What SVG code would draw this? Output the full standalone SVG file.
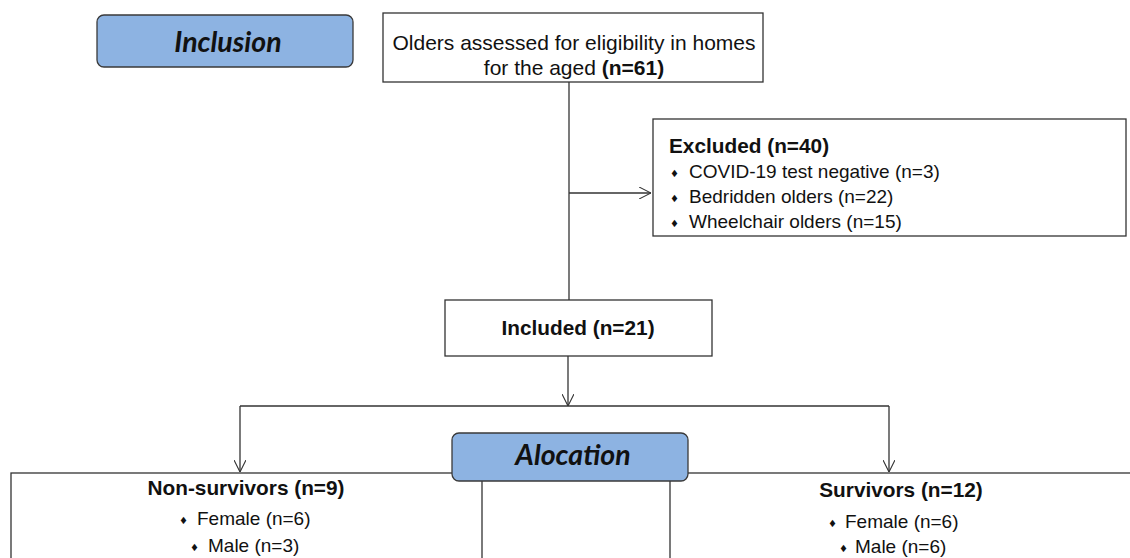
<svg xmlns="http://www.w3.org/2000/svg" width="1130" height="558" viewBox="0 0 1130 558">
<defs>
<marker id="arr" viewBox="0 0 12 12" refX="12" refY="6" markerWidth="12" markerHeight="12" markerUnits="userSpaceOnUse" orient="auto">
<path d="M0,0 L12,6 L0,12" fill="none" stroke="#333" stroke-width="1.1"/>
</marker>
<style>
.box{fill:#fff;stroke:#333;stroke-width:1.3}
.hdr{fill:#8db3e2;stroke:#3a3a3a;stroke-width:1.3}
.ln{fill:none;stroke:#333;stroke-width:1.3}
.t{font-family:"Liberation Sans",Arial,sans-serif;font-size:19px;fill:#111}
.b{font-weight:bold;font-size:20.8px}
.big{font-size:21px}
.h{font-family:Lato,"Open Sans",sans-serif;font-style:italic;font-weight:bold;font-size:28.5px;fill:#111;text-anchor:middle}
.bu{font-family:"DejaVu Sans",sans-serif;font-size:10px;fill:#111}
</style>
</defs>
<g id="connectors">
<line class="ln" x1="569" y1="82" x2="569" y2="300"/>
<line class="ln" x1="569" y1="193" x2="651" y2="193" marker-end="url(#arr)"/>
<line class="ln" x1="568" y1="356" x2="568" y2="406" marker-end="url(#arr)"/>
<polyline class="ln" points="240,406 889,406"/>
<line class="ln" x1="240" y1="406" x2="240" y2="472" marker-end="url(#arr)"/>
<line class="ln" x1="889" y1="406" x2="889" y2="472" marker-end="url(#arr)"/>
</g>
<g id="nonsurvivors">
<rect class="box" x="11" y="473" width="471" height="100"/>
<text class="t b" x="246" y="495" text-anchor="middle">Non-survivors (n=9)</text>
<text class="bu" x="179" y="524">♦</text>
<text class="t" x="197" y="525">Female (n=6)</text>
<text class="bu" x="190" y="551">♦</text>
<text class="t" x="208" y="552">Male (n=3)</text>
</g>
<g id="survivors">
<rect class="box" x="670" y="473" width="480" height="100"/>
<text class="t b" x="901" y="497" text-anchor="middle">Survivors (n=12)</text>
<text class="bu" x="828" y="527">♦</text>
<text class="t" x="845" y="528">Female (n=6)</text>
<text class="bu" x="839" y="552">♦</text>
<text class="t" x="855" y="553">Male (n=6)</text>
</g>
<g id="inclusion">
<rect class="hdr" x="97" y="15" width="256" height="52" rx="7"/>
<text class="h" x="228" y="52">Inclusion</text>
</g>
<g id="assessed">
<rect class="box" x="383" y="13" width="380" height="69"/>
<text class="t big" x="574" y="50" text-anchor="middle">Olders assessed for eligibility in homes</text>
<text class="t big" x="574" y="75" text-anchor="middle">for the aged <tspan font-weight="bold">(n=61)</tspan></text>
</g>
<g id="excluded">
<rect class="box" x="653" y="119" width="473" height="117"/>
<text class="t b" x="669" y="153">Excluded (n=40)</text>
<text class="bu" x="670" y="177">♦</text>
<text class="t" x="689" y="178">COVID-19 test negative (n=3)</text>
<text class="bu" x="670" y="202">♦</text>
<text class="t" x="689" y="203">Bedridden olders (n=22)</text>
<text class="bu" x="670" y="227">♦</text>
<text class="t" x="689" y="228">Wheelchair olders (n=15)</text>
</g>
<g id="included">
<rect class="box" x="445" y="300" width="267" height="56"/>
<text class="t b" x="578" y="335" text-anchor="middle">Included (n=21)</text>
</g>
<g id="alocation">
<rect class="hdr" x="452" y="433" width="236" height="48" rx="7"/>
<text class="h" x="573" y="465">Alocation</text>
</g>
</svg>
